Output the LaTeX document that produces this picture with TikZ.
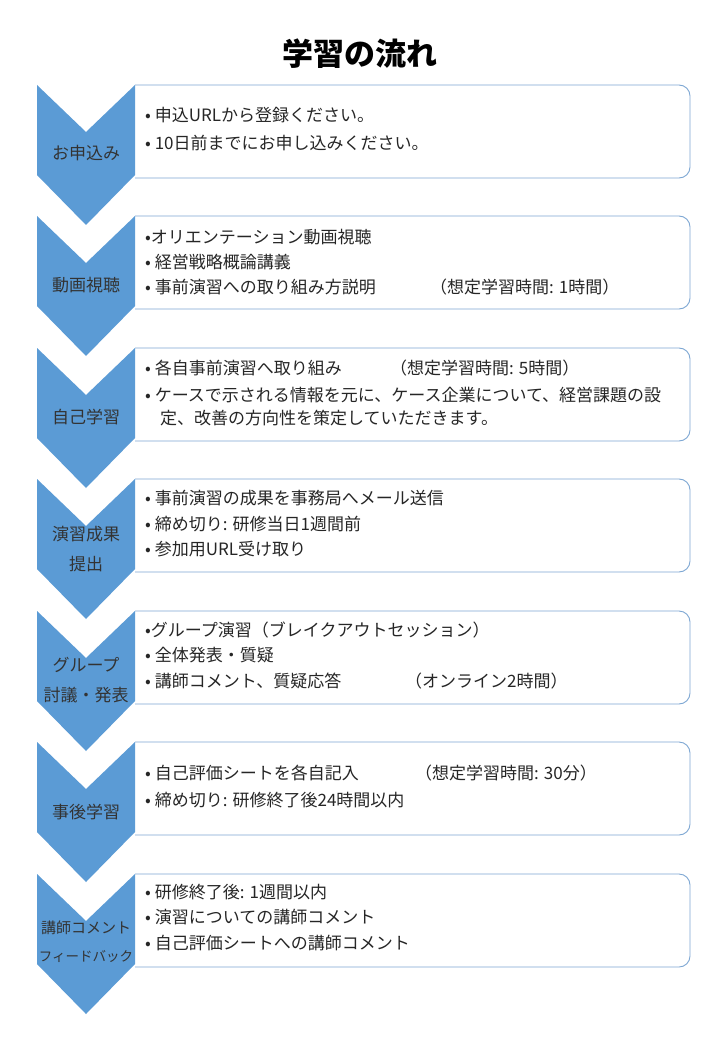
\documentclass[tikz,border=0pt]{standalone}
\usepackage{fontspec}
\setmainfont{Noto Sans CJK JP}
\begin{document}
\begin{tikzpicture}[x=1pt,y=-1pt,
  chev/.style={fill=chevblue,draw=none},
  sbox/.style={draw=boxline,line width=0.9pt,fill=white},
  ln/.style={anchor=west,inner sep=0pt,font=\fontsize{17}{19}\selectfont,text=black!85},
  lab/.style={inner sep=0pt,font=\fontsize{17}{19}\selectfont,text=black!80}]
\definecolor{chevblue}{HTML}{5B9BD5}
\definecolor{boxline}{HTML}{7DA7D3}
\useasboundingbox (0,0) rectangle (720,1040);
\fill[white] (0,0) rectangle (720,1040);
\node[font=\fontsize{31}{34}\selectfont\bfseries] (title) at (360,54) {学習の流れ};
\newcommand\stage[1]{%
  \draw[sbox] (135,#1) [rounded corners=11pt] -- (690,#1) -- (690,#1+93) [sharp corners] -- (135,#1+93);
  \fill[chev] (37,#1) -- (86,#1+47) -- (135,#1) -- (135,#1+90) -- (86,#1+140) -- (37,#1+90) -- cycle;}
\stage{85}\stage{216}\stage{348}\stage{479}\stage{611}\stage{742}\stage{874}
% stage 1
\node[lab] (l1) at (86,153) {お申込み};
\node[ln] (t11) at (145,115) {• 申込URLから登録ください。};
\node[ln] (t12) at (145,143) {• 10日前までにお申し込みください。};
% stage 2
\node[lab] (l2) at (86,285) {動画視聴};
\node[ln] (t21) at (145,237) {•オリエンテーション動画視聴};
\node[ln] (t22) at (145,262) {• 経営戦略概論講義};
\node[ln] (t23) at (145,287) {• 事前演習への取り組み方説明};
\node[ln] (t23b) at (430,287) {（想定学習時間: 1時間）};
% stage 3
\node[lab] (l3) at (86,417) {自己学習};
\node[ln] (t31) at (145,368) {• 各自事前演習へ取り組み};
\node[ln] (t31b) at (390,368) {（想定学習時間: 5時間）};
\node[ln] (t32) at (145,395) {• ケースで示される情報を元に、ケース企業について、経営課題の設};
\node[ln] (t33) at (160,418) {定、改善の方向性を策定していただきます。};
% stage 4
\node[lab] (l4a) at (86,534) {演習成果};
\node[lab] (l4b) at (86,564) {提出};
\node[ln] (t41) at (145,498) {• 事前演習の成果を事務局へメール送信};
\node[ln] (t42) at (145,524) {• 締め切り: 研修当日1週間前};
\node[ln] (t43) at (145,549) {• 参加用URL受け取り};
% stage 5
\node[lab] (l5a) at (86,665) {グループ};
\node[lab] (l5b) at (86,695) {討議・発表};
\node[ln] (t51) at (145,630) {•グループ演習（ブレイクアウトセッション）};
\node[ln] (t52) at (145,655) {• 全体発表・質疑};
\node[ln] (t53) at (145,681) {• 講師コメント、質疑応答};
\node[ln] (t53b) at (405,681) {（オンライン2時間）};
% stage 6
\node[lab] (l6) at (86,812) {事後学習};
\node[ln] (t61) at (145,773) {• 自己評価シートを各自記入};
\node[ln] (t61b) at (415,773) {（想定学習時間: 30分）};
\node[ln] (t62) at (145,800) {• 締め切り: 研修終了後24時間以内};
% stage 7
\node[lab,font=\fontsize{15}{17}\selectfont] (l7a) at (86,928) {講師コメント};
\node[lab,font=\fontsize{13.5}{15}\selectfont] (l7b) at (86,956) {フィードバック};
\node[ln] (t71) at (145,892) {• 研修終了後: 1週間以内};
\node[ln] (t72) at (145,917) {• 演習についての講師コメント};
\node[ln] (t73) at (145,943) {• 自己評価シートへの講師コメント};
\end{tikzpicture}
\end{document}
